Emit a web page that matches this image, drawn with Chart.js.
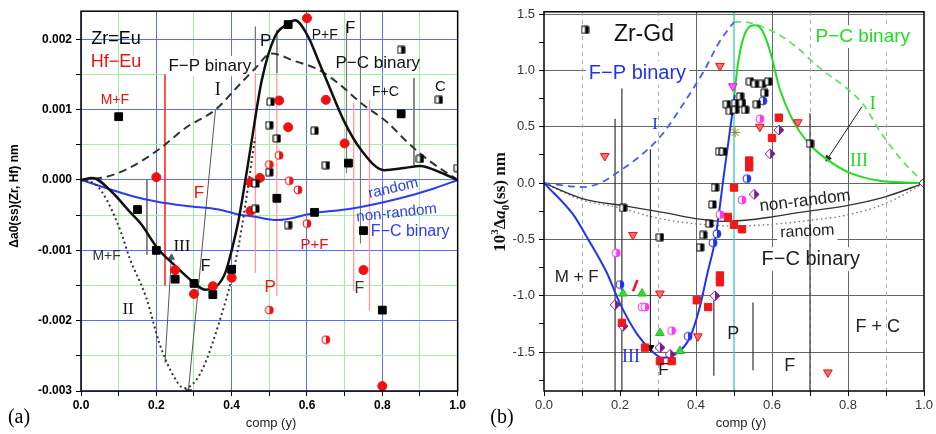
<!doctype html>
<html lang="en">
<head>
<meta charset="utf-8">
<title>Δa0(ss) vs comp (y)</title>
<script src="https://cdn.jsdelivr.net/npm/chart.js@4.4.1/dist/chart.umd.min.js"></script>
<style>
  html, body { margin: 0; padding: 0; background: #fff; }
  #wrap { position: relative; width: 936px; height: 434px; }
  canvas { position: absolute; top: 0; }
  #chartA { left: 0; }
  #chartB { left: 468px; }
</style>
</head>
<body>
<div id="wrap">
  <canvas id="chartA" width="468" height="434"></canvas>
  <canvas id="chartB" width="468" height="434"></canvas>
</div>
<script>
// ---------- panel (a): Zr-Eu / Hf-Eu ----------
const compTicks = [0, 0.1, 0.2, 0.3, 0.4, 0.5, 0.6, 0.7, 0.8, 0.9, 1.0];
const valTicksA = [-0.003, -0.0025, -0.002, -0.0015, -0.001, -0.0005, 0, 0.0005, 0.001, 0.0015, 0.002];

const zrEuX = [0.10, 0.15, 0.20, 0.25, 0.30, 0.35, 0.40, 0.52, 0.55, 0.62, 0.71, 0.75, 0.80, 0.85];
const zrEuY = [0.0009, -0.00042, -0.0010, -0.00141, -0.00147, -0.00163, -0.00127, -0.00026, 0.00221, -0.00046, 0.00024, -0.00072, -0.00185, 0.00094];
const zrEuHalfX = [0.463, 0.463, 0.50, 0.50, 0.503, 0.52, 0.55, 0.62, 0.65, 0.85, 0.90, 0.95, 1.00];
const zrEuHalfY = [-0.00005, -0.00041, 0.00011, 0.00078, 0.00111, 0.00059, -0.00064, 0.0007, 0.00021, 0.00185, 0.0003, 0.00114, 0.00017];
const hfEuX = [0.20, 0.25, 0.30, 0.35, 0.40, 0.45, 0.45, 0.475, 0.526, 0.55, 0.60, 0.65, 0.70, 0.75, 0.80];
const hfEuY = [0.00004, -0.00128, -0.00162, -0.00151, -0.00139, -0.00003, -0.00044, 0.00003, 0.00113, 0.00075, 0.0023, 0.00114, 0.00052, -0.00128, -0.00293];
const hfEuHalfX = [0.50, 0.50, 0.526, 0.553, 0.576, 0.60, 0.65];
const hfEuHalfY = [0.00022, -0.00185, 0.00035, -0.00001, -0.00014, -0.00062, -0.00227];

// curves (III solid, I dashed, II dotted, random blue)
const curveIIIx = [0, 0.03, 0.082, 0.129, 0.16, 0.203, 0.25, 0.295, 0.33, 0.36, 0.383, 0.40, 0.418, 0.435, 0.45, 0.48, 0.515, 0.55, 0.568, 0.603, 0.63, 0.655, 0.70, 0.742, 0.805, 0.858, 0.90, 0.953, 1.0];
const curveIIIy = [0, 0.00003, -0.00017, -0.00045, -0.00063, -0.00097, -0.00122, -0.00144, -0.00156, -0.00151, -0.00132, -0.0010, -0.00058, -0.00005, 0.00045, 0.00142, 0.00204, 0.00222, 0.00227, 0.00204, 0.0017, 0.00138, 0.00082, 0.00044, 0.00014, 0.00017, 0.0002, 0.00011, 0];
const curveIx = [0, 0.063, 0.124, 0.208, 0.28, 0.357, 0.418, 0.463, 0.505, 0.568, 0.63, 0.682, 0.742, 0.813, 0.866, 0.918, 1.0];
const curveIy = [0, 0.00004, 0.00016, 0.00044, 0.00075, 0.001, 0.00134, 0.00159, 0.0018, 0.00169, 0.00157, 0.00138, 0.0011, 0.00082, 0.00054, 0.0003, 0];
const curveIIx = [0, 0.04, 0.071, 0.108, 0.129, 0.173, 0.208, 0.242, 0.274, 0.305, 0.33, 0.366, 0.40, 0.418, 0.435, 0.45, 0.462];
const curveIIy = [0, -0.00007, -0.00031, -0.00077, -0.00111, -0.00167, -0.00232, -0.00275, -0.00296, -0.00285, -0.0026, -0.00204, -0.0014, -0.00095, -0.0004, 0.00015, 0.0006];
const randomAx = [0, 0.137, 0.203, 0.28, 0.366, 0.418, 0.458, 0.52, 0.62, 0.716, 0.847, 0.937, 1.0];
const randomAy = [0, -0.00023, -0.00031, -0.00037, -0.00042, -0.00049, -0.00052, -0.00057, -0.00047, -0.00041, -0.00026, -0.00012, 0];

// phase boundary lines: x, top, bottom
const redLinesA = [[0.223, 0.0015, -0.0015]];
const pinkLinesA = [[0.463, 0.00152, -0.00132], [0.52, 0.00152, -0.00165], [0.724, 0.0011, -0.00158], [0.766, 0.00114, -0.00186]];
const grayLinesA = [[0.175, 0.0, -0.00106], [0.463, 0.00218, 0.00156], [0.52, 0.00213, 0.00152], [0.705, 0.00222, 0.0001], [0.742, 0.00245, -0.0009], [0.884, 0.00145, 0.00021]];
// tie arrows: x1, y1, x2, y2 (head at second point)
const arrowsA = [[0.357, 0.001, 0.285, -0.003, 185], [0.223, -0.0026, 0.24, -0.0011, 4]];

// ---------- panel (b): Zr-Gd ----------
const valTicksB = [-1.75, -1.5, -1.25, -1.0, -0.75, -0.5, -0.25, 0, 0.25, 0.5, 0.75, 1.0, 1.25, 1.5];

const gdHalfSqX = [0.108, 0.208, 0.305, 0.419, 0.411, 0.45, 0.443, 0.435, 0.461, 0.471, 0.481, 0.489, 0.503, 0.503, 0.516, 0.521, 0.529, 0.542, 0.555, 0.56, 0.574, 0.58, 0.59, 0.70];
const gdHalfSqY = [1.36, -0.22, -0.48, -0.46, -0.57, -0.04, -0.19, -0.36, 0.28, 0.28, 0.70, 0.64, 0.71, 0.65, 0.77, 0.71, 0.65, 0.90, 0.88, 0.70, 0.88, 0.80, 0.90, 0.35];
const gdRedSqX = [0.618, 0.60, 0.54, 0.54, 0.50, 0.484, 0.50, 0.521, 0.463, 0.463, 0.432, 0.402, 0.205, 0.266, 0.305, 0.336];
const gdRedSqY = [0.58, 0.40, 0.20, 0.14, -0.04, -0.30, -0.37, -0.41, -0.82, -0.88, -1.10, -1.04, -1.24, -1.46, -1.58, -1.58];
const gdRedTriX = [0.463, 0.668, 0.568, 0.16, 0.234, 0.305, 0.405, 0.747];
const gdRedTriY = [1.04, 0.54, 0.50, 0.24, -0.46, -0.98, -1.36, -1.68];
const gdPinkTriX = [0.497];
const gdPinkTriY = [0.86];
const gdPinkCircX = [0.568, 0.521, 0.463, 0.19, 0.258, 0.266, 0.336];
const gdPinkCircY = [0.57, -0.15, -0.28, -0.62, -1.10, -1.10, -1.31];
const gdBlueCircX = [0.576, 0.534, 0.455, 0.445, 0.20, 0.379];
const gdBlueCircY = [0.73, 0.04, -0.45, -0.53, -0.90, -1.36];
const gdPurpleX = [0.618, 0.595, 0.553, 0.45, 0.187, 0.208, 0.305, 0.332, 1.0];
const gdPurpleY = [0.47, 0.26, -0.10, -1.00, -1.08, -1.27, -1.46, -1.52, 0];
const gdGreenTriX = [0.208, 0.258, 0.305, 0.358];
const gdGreenTriY = [-0.98, -0.98, -1.33, -1.49];
const gdStarX = [0.503];
const gdStarY = [0.45];
const gdBlackTriX = [0.28];
const gdBlackTriY = [-1.46];
const gdSlashX = [0.24];
const gdSlashY = [-0.91];

const fpSolidX = [0, 0.077, 0.113, 0.166, 0.20, 0.245, 0.284, 0.31, 0.35, 0.384, 0.41, 0.43, 0.45, 0.476, 0.494, 0.502];
const fpSolidY = [0, -0.28, -0.48, -0.80, -1.07, -1.34, -1.49, -1.55, -1.51, -1.37, -1.10, -0.80, -0.51, 0.14, 0.58, 0.78];
const fpDashX = [0, 0.103, 0.147, 0.20, 0.26, 0.313, 0.366, 0.42, 0.463, 0.50];
const fpDashY = [0, -0.035, 0, 0.11, 0.26, 0.44, 0.70, 0.99, 1.26, 1.43];
const pcDashX = [0.50, 0.52, 0.587, 0.656, 0.726, 0.797, 0.84, 0.884, 0.937, 1.0];
const pcDashY = [1.43, 1.43, 1.37, 1.23, 1.02, 0.84, 0.70, 0.46, 0.22, 0];
const pcSolidX = [0.50, 0.51, 0.524, 0.542, 0.555, 0.573, 0.595, 0.62, 0.656, 0.70, 0.753, 0.805, 0.884, 1.0];
const pcSolidY = [0.75, 1.05, 1.28, 1.39, 1.40, 1.36, 1.17, 0.84, 0.55, 0.34, 0.19, 0.09, 0.02, 0];
const nonRandomBx = [0, 0.103, 0.208, 0.313, 0.41, 0.47, 0.53, 0.60, 0.674, 0.797, 0.90, 1.0];
const nonRandomBy = [0, -0.14, -0.20, -0.26, -0.32, -0.34, -0.33, -0.30, -0.26, -0.20, -0.12, 0];
const randomBx = [0, 0.10, 0.20, 0.297, 0.428, 0.50, 0.587, 0.70, 0.787, 0.90, 1.0];
const randomBy = [0, -0.15, -0.22, -0.31, -0.37, -0.38, -0.37, -0.33, -0.29, -0.18, 0];

const phaseLinesB = [[0.187, 0.57, -1.845], [0.205, 0.84, -1.845], [0.28, 0.30, -1.46], [0.447, -1.04, -1.71], [0.55, -1.06, -1.66], [0.70, 0.62, -1.845]];
const arrowsB = [[0.837, 0.68, 0.747, 0.22, 213]];

// ---------- helpers ----------
const sans = "'Liberation Sans', Arial, sans-serif";
const serif = "'Liberation Serif', 'Times New Roman', serif";
Chart.defaults.font.family = sans;

const pts = (xs, ys) => xs.map((x, i) => ({ x, y: ys[i] }));

function curve(xs, ys, color, width, dash) {
  return { data: pts(xs, ys), showLine: true, borderColor: color, borderWidth: width,
    borderDash: dash || [], pointRadius: 0, cubicInterpolationMode: 'monotone', fill: false };
}
function vline(l, color, width) {
  return { data: [{ x: l[0], y: l[1] }, { x: l[0], y: l[2] }], showLine: true,
    borderColor: color, borderWidth: width, pointRadius: 0 };
}
function arrow(a, color) {
  return { data: [{ x: a[0], y: a[1] }, { x: a[2], y: a[3] }], showLine: true,
    borderColor: color, borderWidth: 1, pointRadius: [0, 3.5], pointStyle: 'triangle',
    rotation: [0, a[4]], pointBackgroundColor: color, pointBorderColor: color };
}
function marks(xs, ys, style, radius, fillC, edgeC, rot) {
  return { data: pts(xs, ys), showLine: false, pointStyle: style, pointRadius: radius,
    pointBackgroundColor: fillC, pointBorderColor: edgeC, pointBorderWidth: 1, rotation: rot || 0 };
}
function halfMark(shape, size, color) {
  const s = size + 2, c = document.createElement('canvas');
  c.width = s; c.height = s;
  const g = c.getContext('2d'), m = s / 2, r = size / 2;
  const path = () => {
    g.beginPath();
    if (shape === 'rect') g.rect(m - r, m - r, size, size);
    else if (shape === 'circle') g.arc(m, m, r, 0, Math.PI * 2);
    else { g.moveTo(m, m - r); g.lineTo(m + r, m); g.lineTo(m, m + r); g.lineTo(m - r, m); g.closePath(); }
  };
  path(); g.fillStyle = '#fff'; g.fill();
  g.save(); g.beginPath(); g.rect(m, 0, m, s); g.clip(); path(); g.fillStyle = color; g.fill(); g.restore();
  path(); g.lineWidth = 1; g.strokeStyle = color; g.stroke();
  return c;
}

const near = (v, step) => Math.abs(Math.round(v / step) * step - v) < step * 1e-6;

// labels, white boxes, dashed grid, frame and outer titles
const notesPlugin = {
  id: 'notes',
  beforeDatasetsDraw(chart, args, o) {
    const { ctx, chartArea: a, scales: { x, y } } = chart;
    ctx.save();
    ctx.strokeStyle = '#aaa'; ctx.lineWidth = 1; ctx.setLineDash([4, 4]);
    (o.dashed || []).forEach(v => {
      const px = Math.round(x.getPixelForValue(v)) + 0.5;
      ctx.beginPath(); ctx.moveTo(px, a.top); ctx.lineTo(px, a.bottom); ctx.stroke();
    });
    ctx.setLineDash([]);
    ctx.fillStyle = '#fff';
    (o.items || []).filter(it => it.bg).forEach(it => {
      ctx.font = `${it.s}px ${it.f || sans}`;
      const w = ctx.measureText(it.t).width;
      ctx.fillRect(x.getPixelForValue(it.x) - w / 2 - 3, y.getPixelForValue(it.y) - it.s * 0.6, w + 6, it.s * 1.2);
    });
    ctx.restore();
  },
  afterDatasetsDraw(chart, args, o) {
    const { ctx, scales: { x, y } } = chart;
    (o.items || []).forEach(it => {
      ctx.save();
      ctx.translate(x.getPixelForValue(it.x), y.getPixelForValue(it.y));
      ctx.rotate((it.rot || 0) * Math.PI / 180);
      ctx.font = `${it.b ? 'bold ' : ''}${it.s}px ${it.f || sans}`;
      ctx.fillStyle = it.c;
      ctx.textAlign = 'center'; ctx.textBaseline = 'middle';
      ctx.fillText(it.t, 0, 0);
      ctx.restore();
    });
  },
  afterDraw(chart, args, o) {
    const { ctx, chartArea: a } = chart;
    ctx.save();
    ctx.strokeStyle = '#000'; ctx.lineWidth = 1.5;
    ctx.strokeRect(a.left, a.top, a.right - a.left, a.bottom - a.top);
    ctx.fillStyle = '#222'; ctx.textAlign = 'center'; ctx.textBaseline = 'middle';
    ctx.font = `13px ${sans}`;
    ctx.fillText('comp (y)', o.xTitle[0], o.xTitle[1]);
    ctx.fillStyle = '#000';
    ctx.font = `20px ${serif}`;
    ctx.fillText(o.letter[0], o.letter[1], o.letter[2]);
    if (o.yTitleDraw) o.yTitleDraw(ctx);
    ctx.restore();
  }
};

function baseScales(cfg) {
  return {
    x: {
      type: 'linear', min: 0, max: 1,
      afterBuildTicks: s => { s.ticks = compTicks.map(v => ({ value: v })); },
      afterFit: s => { s.height = 43; },
      ticks: { autoSkip: false, maxRotation: 0, padding: 2, color: cfg.tickColor, font: cfg.tickFont,
        callback: v => near(v, 0.2) ? v.toFixed(1) : '' },
      grid: { color: cfg.xGrid, tickColor: '#000', tickLength: 5, lineWidth: 1 },
      border: { display: false }
    },
    y: {
      type: 'linear', min: cfg.yMin, max: cfg.yMax,
      afterBuildTicks: s => { s.ticks = cfg.yTicks.map(v => ({ value: v })); },
      afterFit: s => { s.width = cfg.yWidth; },
      ticks: { autoSkip: false, padding: 4, color: cfg.tickColor, font: cfg.tickFont,
        callback: v => near(v, cfg.yMajor) ? v.toFixed(cfg.yDigits) : '' },
      grid: { color: cfg.yGrid, tickColor: '#000', tickLength: 5, lineWidth: 1 },
      border: { display: false }
    }
  };
}

// ---------- chart (a) ----------
const blueA = '#2b3cf2';
const gridBlue = '#5b6cff', gridGreen = '#a6eda6';
const halfSqA = halfMark('rect', 7, '#000');
const halfRedA = halfMark('circle', 8, '#f01010');

const dsA = [
  marks(zrEuX, zrEuY, 'rect', 5.5, '#000', '#000'),
  marks(zrEuHalfX, zrEuHalfY, halfSqA, 4),
  marks(hfEuX, hfEuY, 'circle', 4.5, '#f01010', '#f01010'),
  marks(hfEuHalfX, hfEuHalfY, halfRedA, 4),
  curve(curveIIIx, curveIIIy, '#111', 2.5),
  curve(curveIx, curveIy, '#333', 2, [8, 5]),
  curve(curveIIx, curveIIy, '#333', 2, [2, 3]),
  curve(randomAx, randomAy, blueA, 2),
  ...arrowsA.map(a => arrow(a, '#555')),
  ...redLinesA.map(l => vline(l, '#ff3a3a', 1)),
  ...pinkLinesA.map(l => vline(l, '#ff9a9a', 1.3)),
  ...grayLinesA.map(l => vline(l, '#777', 1))
];

const itemsA = [
  { t: 'Zr=Eu', x: 0.093, y: 0.00201, c: '#000', s: 18 },
  { t: 'Hf\u2212Eu', x: 0.093, y: 0.00168, c: '#f01010', s: 18 },
  { t: 'F\u2212P binary', x: 0.342, y: 0.00162, c: '#111', s: 17, bg: true },
  { t: 'M+F', x: 0.09, y: 0.00114, c: '#f01010', s: 14 },
  { t: 'I', x: 0.363, y: 0.00127, c: '#111', s: 18, f: serif },
  { t: 'P', x: 0.49, y: 0.00197, c: '#111', s: 17 },
  { t: 'P+F', x: 0.647, y: 0.00206, c: '#111', s: 14 },
  { t: 'F', x: 0.715, y: 0.00215, c: '#111', s: 16 },
  { t: 'P\u2212C binary', x: 0.788, y: 0.00166, c: '#111', s: 17 },
  { t: 'F+C', x: 0.808, y: 0.00125, c: '#111', s: 14 },
  { t: 'C', x: 0.954, y: 0.00133, c: '#111', s: 15 },
  { t: 'random', x: 0.829, y: -0.00012, c: blueA, s: 15, rot: -13 },
  { t: 'non-random', x: 0.838, y: -0.00047, c: blueA, s: 15, rot: -6 },
  { t: 'F\u2212C binary', x: 0.874, y: -0.00073, c: blueA, s: 16 },
  { t: 'F', x: 0.313, y: -0.00019, c: '#f01010', s: 17 },
  { t: 'M+F', x: 0.068, y: -0.00108, c: '#333', s: 14 },
  { t: 'III', x: 0.268, y: -0.00094, c: '#111', s: 17, f: serif },
  { t: 'F', x: 0.331, y: -0.00123, c: '#111', s: 16 },
  { t: 'II', x: 0.125, y: -0.00184, c: '#111', s: 17, f: serif },
  { t: 'P+F', x: 0.62, y: -0.00092, c: '#f01010', s: 15 },
  { t: 'P', x: 0.502, y: -0.00153, c: '#f01010', s: 17 },
  { t: 'F', x: 0.739, y: -0.00154, c: '#333', s: 16 }
];

new Chart(document.getElementById('chartA'), {
  type: 'scatter',
  data: { datasets: dsA },
  options: {
    responsive: false, animation: false,
    layout: { padding: { top: 8, right: 7, left: 0, bottom: 0 } },
    plugins: {
      legend: { display: false }, tooltip: { enabled: false },
      notes: {
        items: itemsA, xTitle: [271, 423], letter: ['(a)', 19, 418],
        yTitleDraw: ctx => {
          ctx.save(); ctx.translate(15, 196); ctx.rotate(-Math.PI / 2);
          ctx.font = `bold 12px ${sans}`; ctx.fillStyle = '#000';
          ctx.fillText('\u0394a0(ss)(Zr, Hf) nm', 0, 0); ctx.restore();
        }
      }
    },
    scales: baseScales({
      yMin: -0.003, yMax: 0.0024, yTicks: valTicksA, yMajor: 0.001, yDigits: 3, yWidth: 81,
      tickColor: '#000', tickFont: { size: 12, weight: 'bold', family: sans },
      xGrid: c => near(c.tick.value, 0.2) ? gridBlue : gridGreen,
      yGrid: c => near(c.tick.value, 0.001) ? gridBlue : gridGreen
    })
  },
  plugins: [notesPlugin]
});

// ---------- chart (b) ----------
const blueB = '#2233ee', greenB = '#22dd22';
const halfSqB = halfMark('rect', 7, '#000');
const halfPink = halfMark('circle', 8, '#ff33ff');
const halfBlue = halfMark('circle', 8, '#2233ee');
const halfPurple = halfMark('diamond', 10, '#7a1f8a');
const halfGreenTri = null;

const dsB = [
  marks(gdHalfSqX, gdHalfSqY, halfSqB, 4),
  marks(gdRedSqX, gdRedSqY, 'rect', 5.2, '#f01818', '#f01818'),
  marks(gdRedTriX, gdRedTriY, 'triangle', 5, '#ff6a6a', '#e81010', 180),
  marks(gdPinkTriX, gdPinkTriY, 'triangle', 5, '#ff55ff', '#e020e0', 180),
  marks(gdPinkCircX, gdPinkCircY, halfPink, 4),
  marks(gdBlueCircX, gdBlueCircY, halfBlue, 4),
  marks(gdPurpleX, gdPurpleY, halfPurple, 4),
  marks(gdGreenTriX, gdGreenTriY, 'triangle', 5, '#33dd33', '#22bb22'),
  marks(gdStarX, gdStarY, 'star', 5, '#b09a30', '#9a8420'),
  marks(gdBlackTriX, gdBlackTriY, 'triangle', 4, '#000', '#000', 180),
  { ...marks(gdSlashX, gdSlashY, 'line', 6, '#f01818', '#f01818', -68), pointBorderWidth: 2.5 },
  curve(fpSolidX, fpSolidY, blueB, 2),
  curve(pcSolidX, pcSolidY, greenB, 2),
  curve(fpDashX, fpDashY, '#4a5af5', 1.8, [7, 5]),
  curve(pcDashX, pcDashY, '#66e066', 1.8, [7, 5]),
  curve(nonRandomBx, nonRandomBy, '#333', 1.4),
  curve(randomBx, randomBy, '#777', 1.4, [1.5, 3]),
  ...arrowsB.map(a => arrow(a, '#222')),
  vline([0.5, 1.52, -1.845], '#3cc4c4', 1.3),
  ...phaseLinesB.map(l => vline(l, '#222', 1.1))
];

const itemsB = [
  { t: 'Zr-Gd', x: 0.263, y: 1.316, c: '#111', s: 23, bg: true },
  { t: 'F\u2212P binary', x: 0.246, y: 0.976, c: blueB, s: 20, bg: true },
  { t: 'I', x: 0.292, y: 0.52, c: blueB, s: 17, f: serif },
  { t: 'P\u2212C binary', x: 0.839, y: 1.30, c: greenB, s: 19, bg: true },
  { t: 'I', x: 0.865, y: 0.70, c: greenB, s: 18, f: serif },
  { t: 'III', x: 0.829, y: 0.195, c: greenB, s: 18, f: serif },
  { t: 'non-random', x: 0.687, y: -0.16, c: '#222', s: 17, rot: -7 },
  { t: 'random', x: 0.693, y: -0.43, c: '#222', s: 16, rot: -3, bg: true },
  { t: 'F\u2212C binary', x: 0.702, y: -0.675, c: '#222', s: 20, bg: true },
  { t: 'M + F', x: 0.086, y: -0.838, c: '#222', s: 17 },
  { t: 'III', x: 0.229, y: -1.546, c: blueB, s: 18, f: serif },
  { t: 'F', x: 0.314, y: -1.66, c: '#222', s: 17 },
  { t: 'P', x: 0.498, y: -1.34, c: '#222', s: 18 },
  { t: 'F', x: 0.647, y: -1.62, c: '#222', s: 18 },
  { t: 'F + C', x: 0.878, y: -1.28, c: '#222', s: 18 }
];

new Chart(document.getElementById('chartB'), {
  type: 'scatter',
  data: { datasets: dsB },
  options: {
    responsive: false, animation: false,
    layout: { padding: { top: 10, right: 12, left: 0, bottom: 0 } },
    plugins: {
      legend: { display: false }, tooltip: { enabled: false },
      notes: {
        items: itemsB, dashed: [0.1, 0.3, 0.7, 0.9], xTitle: [273, 423], letter: ['(b)', 34, 418],
        yTitleDraw: ctx => {
          ctx.save(); ctx.translate(31, 202); ctx.rotate(-Math.PI / 2);
          ctx.fillStyle = '#111'; ctx.textAlign = 'left'; ctx.textBaseline = 'alphabetic';
          const big = `bold 17px ${serif}`, small = `bold 11px ${serif}`, ital = `italic bold 17px ${serif}`;
          const parts = [['10', big, 0], ['3', small, -7], ['\u0394', big, 0], ['a', ital, 0], ['0', small, 4], ['(ss) nm', big, 0]];
          let w = 0;
          parts.forEach(p => { ctx.font = p[1]; w += ctx.measureText(p[0]).width; });
          let xx = -w / 2;
          parts.forEach(p => { ctx.font = p[1]; ctx.fillText(p[0], xx, 6 + p[2]); xx += ctx.measureText(p[0]).width; });
          ctx.restore();
        }
      }
    },
    scales: baseScales({
      yMin: -1.845, yMax: 1.52, yTicks: valTicksB, yMajor: 0.5, yDigits: 1, yWidth: 76,
      tickColor: '#333', tickFont: { size: 13, family: sans },
      xGrid: c => {
        const k = Math.round(c.tick.value * 10);
        return (k === 4 || k === 6 || k === 8) ? '#666' : 'rgba(0,0,0,0)';
      },
      yGrid: c => near(c.tick.value, 0.5) ? '#666' : 'rgba(0,0,0,0)'
    })
  },
  plugins: [notesPlugin]
});
</script>
</body>
</html>
